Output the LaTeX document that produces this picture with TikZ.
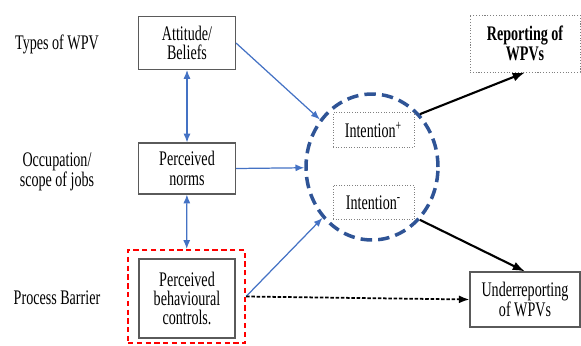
\documentclass[tikz,border=0pt]{standalone}
\usepackage{fontspec}
\setmainfont[FakeStretch=0.68]{Liberation Serif}
\usetikzlibrary{arrows.meta,positioning}
\usetikzlibrary{shapes.geometric}
\definecolor{linkblue}{RGB}{68,114,196}
\definecolor{ringblue}{RGB}{47,84,150}
\definecolor{boxgray}{RGB}{90,90,90}

\begin{document}
\begin{tikzpicture}[x=0.02cm,y=-0.02cm,
        font=\fontsize{11.8}{11}\selectfont,
        factor/.style={draw=boxgray, line width=0.6pt, align=center, inner sep=0pt},
        outcome/.style={factor, minimum width=2.2cm},
        intentbox/.style={draw=gray, densely dotted, line width=0.5pt, inner sep=0pt,
            minimum width=1.62cm, minimum height=0.69cm},
        link/.style={draw=linkblue, line width=0.7pt, -{Latex[length=5pt,width=4pt]}},
        twoway/.style={link, {Latex[length=5pt,width=4pt]}-{Latex[length=5pt,width=4pt]}},
        result/.style={draw=black, line width=1.2pt, -{Latex[length=7pt,width=5pt]}}]

            % Frame of the picture
            \useasboundingbox (0,0) rectangle (581,345);

            % Labels on the left
            \node (types) at (57,44) {Types of WPV};
            \node[align=center] (occupation) at (57,172) {Occupation/\\scope of jobs};
            \node (barrier) at (57,298) {Process Barrier};

            % Predictors
            \node[factor, minimum width=1.94cm, minimum height=1.06cm] (attitude) at (187,43) {Attitude/\\Beliefs};
            \node[factor, minimum width=1.94cm, minimum height=1.02cm] (norms) at (187,168.5) {Perceived\\norms};
            \node[factor, minimum width=1.92cm, minimum height=1.58cm] (pbc) at (187,298.5) {Perceived\\behavioural\\controls.};
            \node[draw=red, dashed, line width=1.2pt, dash pattern=on 3pt off 2pt,
                minimum width=2.34cm, minimum height=1.86cm] (barrierbox) at (186.5,296.5) {};

            % Intention
            \node[ellipse, draw=ringblue, line width=2pt, dash pattern=on 6.5pt off 3.5pt,
                minimum width=2.64cm, minimum height=2.92cm] (intent) at (372,167) {};
            \node[intentbox] (plus) at (373.5,130) {Intention\textsuperscript{+}};
            \node[intentbox] (minus) at (373.5,202.5) {Intention\textsuperscript{-}};

            % Behaviour
            \node[outcome, draw=gray, densely dotted, line width=0.5pt, minimum height=1.14cm,
                font=\fontsize{11.8}{11}\selectfont\bfseries] (report) at (525,43.5) {Reporting of\\WPVs};
            \node[outcome, minimum height=1.1cm] (under) at (525,299.5) {Underreporting\\of WPVs};

            \draw[twoway] (attitude) -- (norms);
            \draw[twoway] (norms) -- (barrierbox);
            \draw[link] (attitude.east) -- (intent);
            \draw[link] (norms.east) -- (intent);
            \draw[link] (barrierbox.east) -- (intent);
            \draw[result] (intent.north east) -- (report.south);
            \draw[result] (intent.south east) -- (under.north);
            \draw[line width=1pt, dash pattern=on 2pt off 1pt, -{Latex[length=6pt,width=4.5pt]}] (barrierbox.east) -- (under.west);
        \end{tikzpicture}
\end{document}
